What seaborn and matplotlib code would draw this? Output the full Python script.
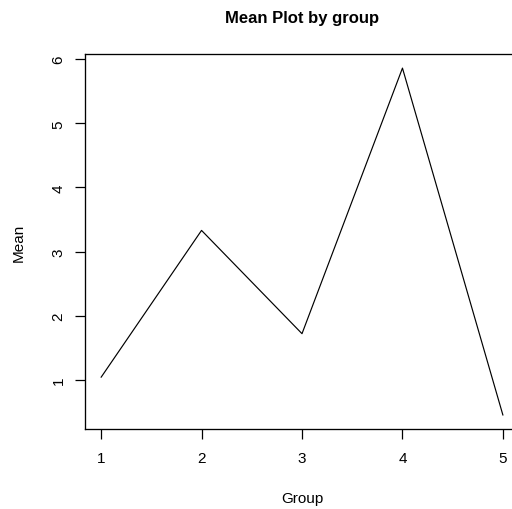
import matplotlib
matplotlib.use("Agg")
import matplotlib.pyplot as plt
import seaborn as sns
import pandas as pd

groups = [1, 2, 3, 4, 5]
means = [1.04, 3.33, 1.72, 5.86, 0.45]
xticks = [1, 2, 3, 4, 5]
yticks = [1, 2, 3, 4, 5, 6]

sns.set_theme(style="ticks")
plt.rcParams['font.family'] = ['Liberation Sans', 'DejaVu Sans']

df = pd.DataFrame({"Group": groups, "Mean": means})

fig = plt.figure(figsize=(5.12, 5.10), dpi=100)
ax = fig.add_axes([85/512, 80/510, 434/512, 375/510])
sns.lineplot(data=df, x="Group", y="Mean", ax=ax, color="black", linewidth=0.85)

ax.set_xlim(0.84, 5.16)
ax.set_ylim(0.234, 6.08)
ax.set_xticks(xticks)
ax.set_yticks(yticks)
ax.set_xticklabels([str(v) for v in xticks])
ax.set_yticklabels([str(v) for v in yticks], rotation=90, va='center')
ax.tick_params(axis='both', direction='out', length=7, width=0.9, color='black',
               labelsize=11, labelcolor='black')
ax.tick_params(axis='x', pad=8.5)
ax.tick_params(axis='y', pad=7)
for s in ax.spines.values():
    s.set_visible(True)
    s.set_color('black')
    s.set_linewidth(0.95)

ax.set_xlabel("Group", fontsize=11, color='black')
ax.set_ylabel("Mean", fontsize=11, color='black')
ax.xaxis.set_label_coords(0.5, (430 - 499) / 375)
ax.yaxis.set_label_coords((18.5 - 85) / 434, 0.5)
ax.xaxis.label.set_va('center')
ax.yaxis.label.set_va('center')
ax.text(0.5, (430 - 19) / 375, "Mean Plot by group", transform=ax.transAxes,
        ha='center', va='center', fontsize=12, fontweight='bold', color='black')
ax.grid(False)

fig.savefig("out.png", dpi=100)
